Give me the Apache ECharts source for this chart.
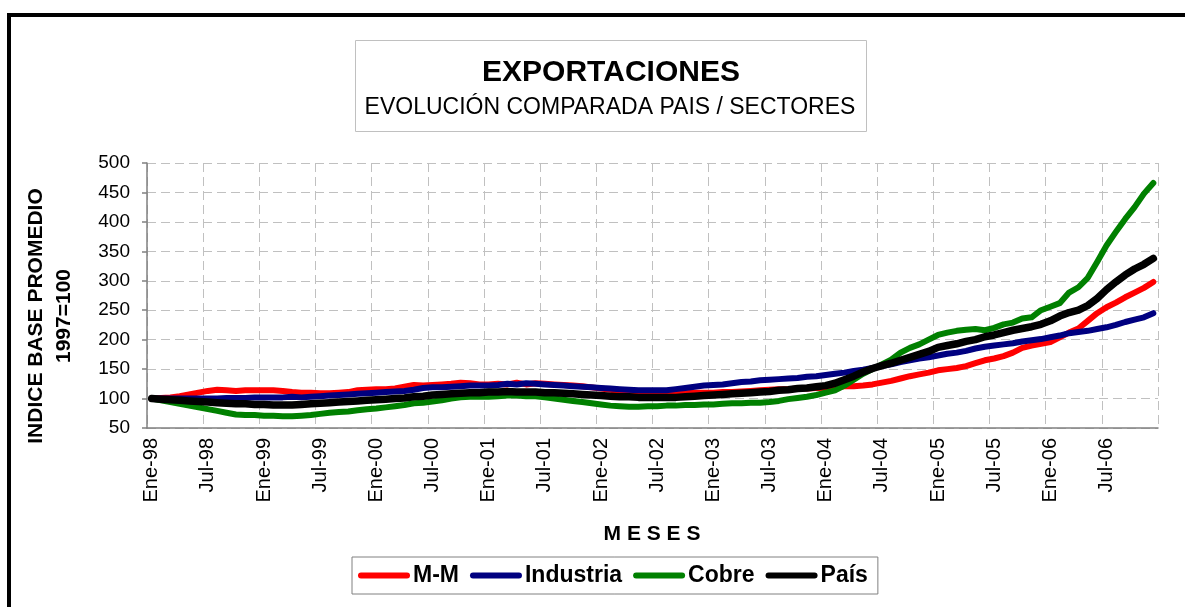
<!DOCTYPE html>
<html>
<head>
<meta charset="utf-8">
<script src="https://cdn.jsdelivr.net/npm/echarts@6/dist/echarts.min.js"></script>
<style>
  html, body { margin: 0; padding: 0; background: #fff; }
  #chart { width: 1185px; height: 607px; }
</style>
</head>
<body>
<div id="chart"></div>
<script>
// categorias: meses Ene-98 .. Dic-06
var meses = ['Ene','Feb','Mar','Abr','May','Jun','Jul','Ago','Sep','Oct','Nov','Dic'];
var anios = ['98','99','00','01','02','03','04','05','06'];
var categorias = [];
anios.forEach(function (a) {
  meses.forEach(function (m) { categorias.push(m + '-' + a); });
});

var yTicks = [50, 500, 50]; // min, max, intervalo

// indices base promedio 1997=100
var mm = [
  100,101,102,104,107,110,113,115,114,113,114,114,
  114,114,113,111,110,110,109,109,110,111,114,115,
  116,116,117,120,123,122,123,124,125,127,126,124,
  124,125,124,127,124,126,125,124,123,122,121,119,
  117,115,113,111,110,109,108,108,108,109,110,110,
  110,111,111,112,113,114,115,116,116,117,117,118,
  118,119,121,121,122,124,127,130,134,138,141,144,
  148,150,152,155,160,165,168,172,178,186,190,193,
  196,204,212,219,232,245,255,263,272,280,288,298
];
var industria = [
  100,100,100,100,100,100,100,100,101,101,101,102,
  102,102,102,103,102,103,104,105,106,107,108,109,
  110,111,112,113,115,118,119,119,120,121,122,122,
  122,123,125,124,126,125,124,123,122,121,120,119,
  118,117,116,115,114,114,114,114,116,118,120,122,
  123,124,126,128,129,131,132,133,134,135,137,138,
  140,142,144,147,149,152,155,158,162,165,168,170,
  173,176,178,181,185,188,190,192,194,197,199,201,
  204,207,211,213,215,218,221,225,230,234,238,245
];
var cobre = [
  100,97,94,91,88,85,82,79,76,73,72,72,
  71,71,70,70,71,72,74,76,77,78,80,82,
  83,85,87,89,92,93,95,97,100,102,103,103,
  103,104,105,105,104,104,102,100,98,96,94,92,
  90,88,87,86,86,87,87,88,88,89,89,90,
  90,91,92,92,93,93,94,96,99,101,103,106,
  110,114,122,132,142,150,158,166,178,186,192,200,
  208,212,215,217,218,216,220,226,229,236,238,250,
  256,262,280,289,305,332,360,383,405,425,448,466
];
var pais = [
  100,99,98,97,96,95,94,93,92,91,91,90,
  90,89,89,89,90,91,92,93,94,95,96,97,
  98,99,100,101,103,104,106,107,108,109,110,110,
  111,111,112,111,111,111,110,110,109,108,107,106,
  105,104,103,103,102,102,102,102,102,103,104,105,
  106,107,108,109,110,111,112,114,115,117,118,120,
  122,126,132,138,145,151,156,160,165,170,175,180,
  187,190,193,197,200,205,208,212,216,219,222,226,
  232,240,246,250,258,270,285,298,310,320,328,338
];

var font = 'Liberation Sans, Arial, sans-serif';
var legendIcon = 'path://M3,0 H49 A3,3 0 0 1 49,6 H3 A3,3 0 0 1 3,0 Z';

function serie(nombre, datos, color, ancho) {
  return {
    name: nombre,
    type: 'line',
    data: datos,
    symbol: 'none',
    smooth: false,
    color: color,
    lineStyle: { color: color, width: ancho, cap: 'round', join: 'round' },
    emphasis: { disabled: true },
    animation: false
  };
}

var myChart = echarts.init(document.getElementById('chart'), null, { renderer: 'canvas' });
myChart.setOption({
  backgroundColor: '#fff',
  animation: false,
  textStyle: { fontFamily: font },
  graphic: [
    { type: 'rect', z: -10, shape: { x: 9, y: 15, width: 1400, height: 800 },
      style: { fill: 'none', stroke: '#000', lineWidth: 4 } },
    { type: 'rect', z: -5, shape: { x: 355.5, y: 40.5, width: 511, height: 91 },
      style: { fill: '#fff', stroke: '#c0c0c0', lineWidth: 1 } },
    { type: 'text', x: 611, y: 73, style: { text: 'EXPORTACIONES', font: 'bold 30px ' + font,
      fill: '#000', textAlign: 'center', textVerticalAlign: 'middle' } },
    { type: 'text', x: 610, y: 108, style: { text: 'EVOLUCIÓN COMPARADA PAIS / SECTORES', font: '23px ' + font,
      fill: '#000', textAlign: 'center', textVerticalAlign: 'middle' } },
    { type: 'text', x: 36, y: 316, rotation: Math.PI / 2, style: { text: 'INDICE BASE PROMEDIO',
      font: 'bold 21px ' + font, fill: '#000', textAlign: 'center', textVerticalAlign: 'middle' } },
    { type: 'text', x: 64, y: 316, rotation: Math.PI / 2, style: { text: '1997=100',
      font: 'bold 21px ' + font, fill: '#000', textAlign: 'center', textVerticalAlign: 'middle' } },
    { type: 'text', x: 652, y: 534, style: { text: 'M E S E S', font: 'bold 21px ' + font,
      fill: '#000', textAlign: 'center', textVerticalAlign: 'middle' } }
  ],
  legend: {
    left: 352,
    top: 557,
    padding: [6, 10, 6, 6],
    borderColor: '#808080',
    borderWidth: 1,
    backgroundColor: '#fff',
    itemWidth: 52,
    itemHeight: 7,
    itemGap: 11,
    icon: legendIcon,
    selectedMode: false,
    textStyle: { fontFamily: font, fontSize: 23, fontWeight: 'bold', color: '#000', lineHeight: 25, padding: [0, 0, 0, -2] },
    data: ['M-M', 'Industria', 'Cobre', 'País']
  },
  grid: { left: 147, right: 27, top: 163, bottom: 179, containLabel: false },
  xAxis: {
    type: 'category',
    data: categorias,
    boundaryGap: true,
    axisLine: { lineStyle: { color: '#808080', width: 1.5 } },
    axisTick: { interval: 5, length: 6, lineStyle: { color: '#808080', width: 1.5 } },
    axisLabel: { interval: 5, rotate: 90, fontSize: 20, color: '#000', fontFamily: font, margin: 10 },
    splitLine: { show: true, interval: 5, lineStyle: { color: '#c0c0c0', type: [9, 5], width: 1 } }
  },
  yAxis: {
    type: 'value',
    min: yTicks[0],
    max: yTicks[1],
    interval: yTicks[2],
    axisLine: { show: true, lineStyle: { color: '#808080', width: 1.5 } },
    axisTick: { show: true, length: 5, lineStyle: { color: '#808080', width: 1.5 } },
    axisLabel: { fontSize: 19, color: '#000', fontFamily: font, margin: 17 },
    splitLine: { show: true, lineStyle: { color: '#c0c0c0', type: [9, 5], width: 1 } }
  },
  series: [
    serie('M-M', mm, '#ff0000', 6),
    serie('Industria', industria, '#000080', 6),
    serie('Cobre', cobre, '#008000', 6),
    serie('País', pais, '#000000', 7.5)
  ]
});
</script>
</body>
</html>
